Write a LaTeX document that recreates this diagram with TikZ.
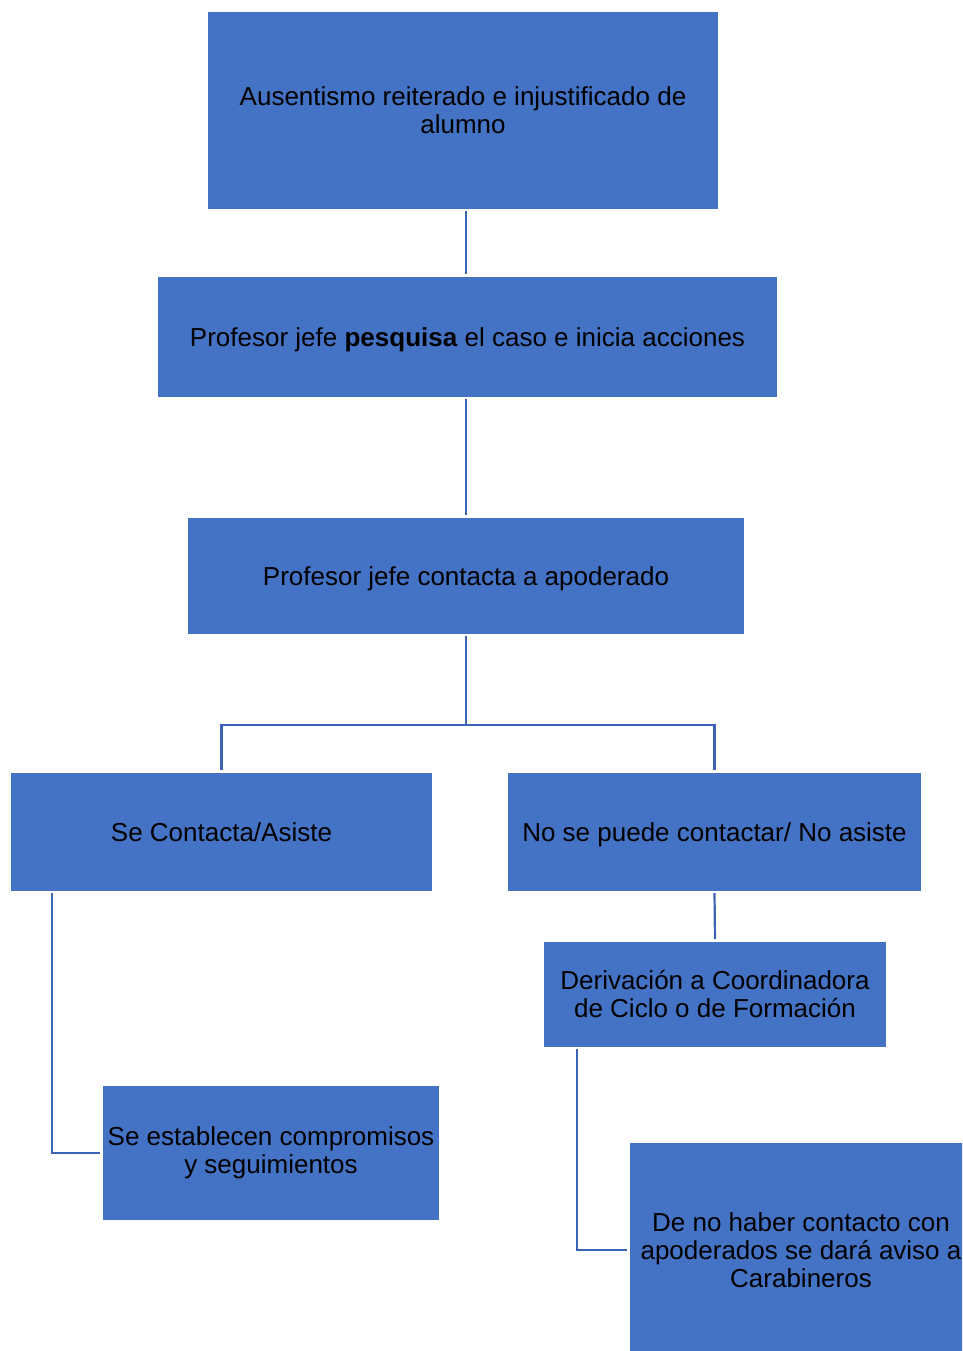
\documentclass[tikz,border=0pt]{standalone}
\usepackage{fontspec}
\setmainfont{Liberation Sans}
\usepackage{tikz}
\usetikzlibrary{positioning}
\definecolor{boxblue}{HTML}{4472C4}
\definecolor{lineblue}{HTML}{3B63B3}

\begin{document}
\begin{tikzpicture}[x=1pt,y=-1pt,
    stepbox/.style={fill=boxblue,draw=none,inner sep=0pt,align=center,
      font=\fontsize{26}{28}\selectfont},
    oneline/.style={text depth=0pt},
    conn/.style={draw=lineblue,line width=2.2pt,shorten <=2pt,shorten >=3pt}]
      %picture is laid out in pixels, y going down
    \useasboundingbox (0,0) rectangle (962,1351);
    \clip (0,0) rectangle (962,1351);
    \node[stepbox,minimum width=510,minimum height=197] (aus) at (463,110.5)
      {Ausentismo reiterado e injustificado de\\alumno};
    \node[stepbox,oneline,minimum width=619,minimum height=120] (pesq) at (467.5,337)
      {Profesor jefe \textbf{pesquisa} el caso e inicia acciones};
    \node[stepbox,oneline,minimum width=556,minimum height=116] (contacta) at (466,576)
      {Profesor jefe contacta a apoderado};
    \node[stepbox,minimum width=421,minimum height=118] (asiste) at (221.5,832)
      {Se Contacta/Asiste};
    \node[stepbox,oneline,minimum width=413,minimum height=118] (noasiste) at (714.5,832)
      {No se puede contactar/ No asiste};
    \node[stepbox,minimum width=342,minimum height=105] (deriv) at (715,994.5)
      {Derivación a Coordinadora\\de Ciclo o de Formación};
    \node[stepbox,minimum width=336,minimum height=134] (compr) at (271,1153)
      {Se establecen compromisos\\y seguimientos};
    \node[stepbox,minimum width=342,minimum height=214] (carab) at (801,1250)
      {De no haber contacto con\\apoderados se dará aviso a\\Carabineros};
      %connectors
    \coordinate (split) at (466,725);
    \draw[conn] (aus.south -| contacta.north) -- (pesq.north -| contacta.north);
    \draw[conn] (pesq.south -| contacta.north) -- (contacta.north);
    \draw[conn,shorten >=0pt] (contacta.south) -- (split);
    \draw[conn,shorten <=3pt,shorten >=3pt] (asiste.north) |- (split) -| (noasiste.north);
    \draw[conn] (noasiste.south) -- (deriv.north);
    \draw[conn] ([xshift=41]asiste.south west) |- (compr.west);
    \draw[conn] ([xshift=33]deriv.south west) |- (carab.west);
\end{tikzpicture}
\end{document}
